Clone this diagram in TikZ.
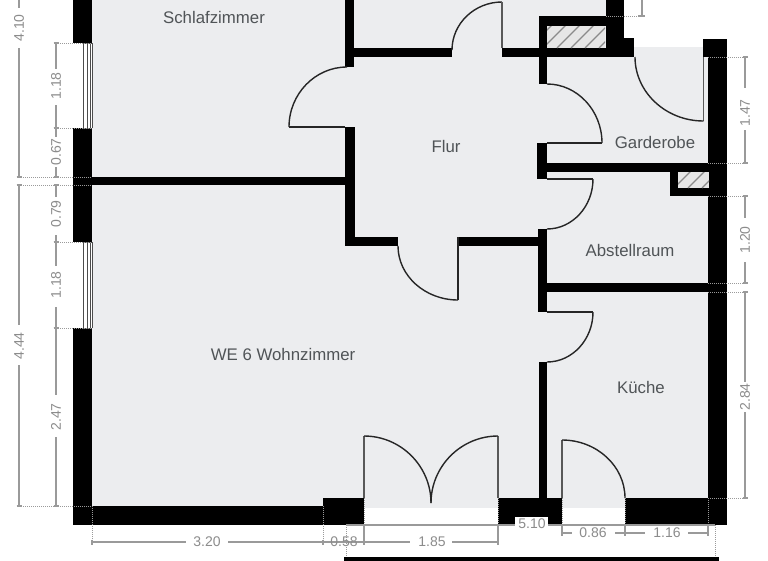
\documentclass[tikz,border=0pt]{standalone}
\usepackage{fontspec}
\setmainfont{Liberation Sans}
\definecolor{floorc}{HTML}{ECEDEF}
\definecolor{dimc}{HTML}{9A9A9A}
\definecolor{dimt}{HTML}{8C8C8C}
\definecolor{labc}{HTML}{505457}
\definecolor{hatchb}{HTML}{E6E6E6}
\definecolor{hatchl}{HTML}{8A8A8A}
\tikzset{
  wallpart/.style={fill=black,draw=none},
  doorline/.style={draw=black!85,line width=1.4pt},
  doorthin/.style={draw=black!65,line width=1.4pt},
  dimline/.style={draw=dimc,line width=1.1pt},
  dimext/.style={draw=dimc,line width=1pt,dash pattern=on 1pt off 1pt},
  dimlabel/.style={text=dimt,font=\fontsize{14}{14}\selectfont,inner sep=0pt},
  roomlabel/.style={text=labc,font=\fontsize{16.8}{17}\selectfont,inner sep=0pt},
}
% vertical dimension: x, y1, gap start, gap end, y2, text y, text, name
\newcommand{\vdimq}[8]{%
  \draw[dimline] (#1,#2)--(#1,#3) (#1,#4)--(#1,#5);
  \draw[dimline] (#1-2.5,#2)--(#1+2.5,#2) (#1-2.5,#5)--(#1+2.5,#5);
  \node[dimlabel,rotate=90] (#8) at (#1,#6) {#7};
}
% horizontal dimension: y, x1, gap start, gap end, x2, text x, text, name
\newcommand{\hdimq}[8]{%
  \draw[dimline] (#2,#1)--(#3,#1) (#4,#1)--(#5,#1);
  \draw[dimline] (#2,#1-2.5)--(#2,#1+2.5) (#5,#1-2.5)--(#5,#1+2.5);
  \node[dimlabel] (#8) at (#6,#1) {#7};
}
\newcommand{\hatchq}[4]{%
  \begin{scope}
    \clip (#1,#2) rectangle (#3,#4);
    \fill[hatchb] (#1,#2) rectangle (#3,#4);
    \foreach \k in {-60,-46,...,120}
      \draw[hatchl,line width=1.2pt] (#1+\k,#4) -- (#1+\k+40,#4-40);
  \end{scope}
}
% quarter arc: vertical tangent at (x0,y0), horizontal tangent at (x1,y1)
\newcommand{\doorarc}[4]{%
  \draw[doorline] (#1,#2) .. controls (#1,{#2+.55*(#4-#2)}) and ({#1+.45*(#3-#1)},#4) .. (#3,#4);
}
\begin{document}
\begin{tikzpicture}[x=1pt,y=-1pt]
\useasboundingbox (0,0) rectangle (768,560);
\begin{scope}
\clip (0,0) rectangle (768,560);
\fill[white] (0,0) rectangle (768,560);
% floor
\fill[floorc] (92,0) -- (606,0) -- (606,47) -- (708,47) -- (708,508) -- (92,508) -- cycle;
% openings below floor
\fill[white] (364,508) rectangle (498,525);
\fill[white] (562,508) rectangle (625,525);
% outer walls
\fill[wallpart] (73,0) rectangle (92,43);
\fill[wallpart] (73,128) rectangle (92,242);
\fill[wallpart] (73,328) rectangle (92,525);
\fill[wallpart] (73,506) rectangle (323,525);
\fill[wallpart] (323,498) rectangle (364,525);
\fill[wallpart] (498,498) rectangle (562,525);
\fill[wallpart] (625,498) rectangle (727,525);
\fill[wallpart] (708,57) rectangle (727,525);
\fill[wallpart] (703,39) rectangle (727,57);
% windows
\foreach \ya/\yb in {43/128,242/328}{
  \fill[white] (73,\ya) rectangle (92,\yb);
  \draw[black!70,line width=.8pt] (83.3,\ya) -- (83.3,\yb) (87,\ya) -- (87,\yb) (90,\ya)--(90,\yb) (92,\ya)--(92,\yb);
  \draw[black!70,line width=.8pt] (83.3,\ya) -- (92,\ya) (83.3,\yb) -- (92,\yb);
}
% inner walls
\fill[wallpart] (73,177) rectangle (345,185);
\fill[wallpart] (345,0) rectangle (353.5,67);
\fill[wallpart] (345,127) rectangle (355,246);
\fill[wallpart] (353,48) rectangle (452,57);
\fill[wallpart] (345,237) rectangle (398,246);
\fill[wallpart] (458,237) rectangle (539,246);
\fill[wallpart] (502,48) rectangle (634,57);
\fill[wallpart] (606,0) rectangle (624,48);
\fill[wallpart] (624,38) rectangle (634,48);
\fill[wallpart] (539,16) rectangle (606,26);
\fill[wallpart] (539,16) rectangle (547,84);
\fill[wallpart] (537,143) rectangle (547,179);
\fill[wallpart] (547,163) rectangle (708,172);
\fill[wallpart] (670,163) rectangle (708,196);
\fill[wallpart] (538,229) rectangle (547,312);
\fill[wallpart] (544,283) rectangle (708,292);
\fill[wallpart] (539,362) rectangle (547,498);
% hatched shafts
\hatchq{547}{26}{605}{48}
\hatchq{678}{172}{709}{188}
% doors
\draw[doorline] (345,127) -- (289,127);
\doorarc{289}{127}{347}{67}
\doorarc{452}{50}{502}{2}
\draw[doorthin] (502,2) -- (502,48);
\doorarc{602}{143}{547}{84}
\draw[doorline] (602,143) -- (547,143);
\draw[doorline] (547,179) -- (593,179);
\doorarc{593}{179}{547}{229}
\draw[doorline] (547,312) -- (593,312);
\doorarc{593}{312}{547}{362}
\draw[doorline] (458,237) -- (458,300);
\doorarc{398}{246}{458}{300}
\draw[doorthin] (703.5,57) -- (703.5,121);
\doorarc{635}{57}{703.5}{121}
\draw[doorthin] (364,498) -- (364,436);
\doorarc{431}{503}{364}{436}
\draw[doorthin] (498,498) -- (498,436);
\doorarc{431}{503}{498}{436}
\draw[doorthin] (562,498) -- (562,440);
\doorarc{625}{498}{562}{440}
% dimension extensions
\foreach \y in {43,128,177,185,242,328,506}{ \draw[dimext] (56,\y) -- (92,\y); }
\foreach \y in {177,185,506}{ \draw[dimext] (19,\y) -- (56,\y); }
\foreach \x in {92,323}{ \draw[dimext] (\x,506) -- (\x,542); }
\draw[dimext] (364,498) -- (364,525);
\foreach \x in {498,562,625,708}{ \draw[dimext] (\x,498) -- (\x,525); }
\foreach \y in {57,163,196,283,292,498}{ \draw[dimext] (708,\y) -- (745,\y); }
\draw[dimext] (606,16) -- (642,16);
\draw[dimext] (346,525) -- (346,557);
\draw[dimext] (715,525) -- (715,557);
% left dimensions
\vdimq{19}{-5}{8}{48}{177}{28}{4.10}{dA}
\vdimq{19}{185}{325}{365}{506}{346}{4.44}{dB}
\vdimq{56}{43}{69}{105}{128}{86}{1.18}{dC}
\vdimq{56}{128}{137}{167}{177}{152}{0.67}{dD}
\vdimq{56}{185}{197}{235}{242}{214}{0.79}{dE}
\vdimq{56}{242}{266}{307}{328}{285}{1.18}{dF}
\vdimq{56}{328}{395}{437}{506}{417}{2.47}{dG}
% right dimensions
\draw[dimline] (642,0) -- (642,16) (638,16) -- (645,16);
\vdimq{745}{57}{88}{130}{163}{113}{1.47}{dI}
\vdimq{745}{196}{218}{262}{283}{240}{1.20}{dJ}
\vdimq{745}{292}{382}{412}{498}{397}{2.84}{dK}
% bottom dimensions
\draw[dimline] (364,525) -- (364,542) (498,525) -- (498,542) (562,525) -- (562,533) (625,525) -- (625,533) (708,525) -- (708,533);
\hdimq{542}{92}{186}{228}{323}{207}{3.20}{dL}
\hdimq{542}{323}{323}{323}{364}{344}{0.58}{dM}
\hdimq{542}{364}{410}{452}{498}{432}{1.85}{dN}
\hdimq{533}{562}{572}{615}{625}{593}{0.86}{dO}
\hdimq{533}{625}{645}{688}{708}{667}{1.16}{dP}
% overall dimension
\draw[dimline] (346,525) -- (515,525) (548,525) -- (715,525);
\fill[white] (515,517) rectangle (548,531);
\node[dimlabel] (dQ) at (532,523.5) {5.10};
\fill[black] (344,557) rectangle (719,562);
% room labels
\node[roomlabel] (rSchlaf) at (214,17) {Schlafzimmer};
\node[roomlabel] (rFlur) at (446,146) {Flur};
\node[roomlabel] (rGard) at (655,142) {Garderobe};
\node[roomlabel] (rAbst) at (630,250) {Abstellraum};
\node[roomlabel] (rWohn) at (283,354) {WE 6 Wohnzimmer};
\node[roomlabel] (rKueche) at (641,387) {Küche};
\end{scope}
\end{tikzpicture}
\end{document}
